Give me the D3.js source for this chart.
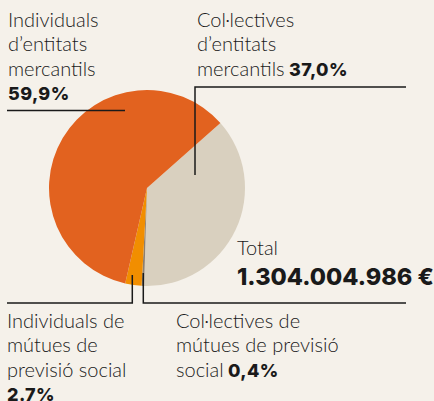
<!DOCTYPE html>
<html lang="ca">
<head>
<meta charset="UTF-8">
<title>Pie</title>
<script src="https://cdn.jsdelivr.net/npm/d3@7"></script>
<style>
  html, body { margin: 0; padding: 0; background: #f5f1ea; }
  svg { display: block; }
  text { font-family: Lato, "Open Sans", sans-serif; fill: #1a1a1a; }
  .lbl { font-size: 20px; font-weight: 300; }
  .num { font-family: Inter, "DejaVu Sans", sans-serif; font-weight: 800; font-size: 18px; letter-spacing: 0.4px; }
</style>
</head>
<body>
<div id="graph"></div>
<script>
    // dades
    var categories = [
        "Col·lectives d'entitats mercantils",
        "Col·lectives de mútues de previsió social",
        "Individuals de mútues de previsió social",
        "Individuals d'entitats mercantils"
    ];
    var values = [37.0, 0.4, 2.7, 59.9];
    var valueLabels = ["37,0%", "0,4%", "2.7%", "59,9%"];
    var colors = ["#d9d0bf", "#8c7f70", "#f18e00", "#e2621f"];
    var totalLabel = "1.304.004.986 €";

    var width = 434, height = 401;
    var cx = 147, cy = 188, radius = 98;
    var startDeg = 48.5;

    var svg = d3.select("#graph").append("svg")
        .attr("width", width).attr("height", height);

    svg.append("rect").attr("width", width).attr("height", height).attr("fill", "#f5f1ea");

    var pie = d3.pie()
        .sort(null)
        .value(function(d) { return d; })
        .startAngle(startDeg * Math.PI / 180)
        .endAngle(startDeg * Math.PI / 180 + 2 * Math.PI);

    var arc = d3.arc().innerRadius(0).outerRadius(radius);

    svg.append("g")
        .attr("transform", "translate(" + cx + "," + cy + ")")
        .selectAll("path")
        .data(pie(values))
        .enter()
        .append("path")
        .attr("d", arc)
        .attr("fill", function(d, i) { return colors[i]; });

    // línies d'etiqueta
    var line = d3.line();
    var leaders = [
        [[195, 175], [195, 87], [406, 87]],
        [[143.3, 273], [143.3, 303], [406, 303]],
        [[132.3, 275], [132.3, 303], [7, 303]],
        [[125, 110.5], [7, 110.5]]
    ];
    svg.append("g").selectAll("path")
        .data(leaders)
        .enter()
        .append("path")
        .attr("d", line)
        .attr("fill", "none")
        .attr("stroke", "#1a1a1a")
        .attr("stroke-width", 1.5);

    // textos
    function block(x, y, lines, boldText, boldOnLast) {
        var t = svg.append("text").attr("class", "lbl").attr("x", x).attr("y", y);
        lines.forEach(function(s, i) {
            t.append("tspan").attr("x", x).attr("dy", i === 0 ? 0 : 24.3).text(s);
        });
        if (boldOnLast) {
            t.append("tspan").attr("class", "num").text(" " + boldText);
        } else {
            t.append("tspan").attr("class", "num").attr("x", x).attr("dy", 24.7).text(boldText);
        }
    }

    block(8, 27, ["Individuals", "d\u2019entitats", "mercantils"], valueLabels[3], false);
    block(197, 27, ["Col·lectives", "d\u2019entitats", "mercantils"], valueLabels[0], true);
    block(7, 328, ["Individuals de", "mútues de", "previsió social"], valueLabels[2], false);
    block(176, 328, ["Col·lectives de", "mútues de previsió", "social"], valueLabels[1], true);

    svg.append("text").attr("class", "lbl").attr("x", 237).attr("y", 255).text("Total");
    svg.append("text").attr("class", "num").attr("x", 237).attr("y", 285)
        .style("font-size", "23.5px").style("letter-spacing", "0px").text(totalLabel);
</script>
</body>
</html>
